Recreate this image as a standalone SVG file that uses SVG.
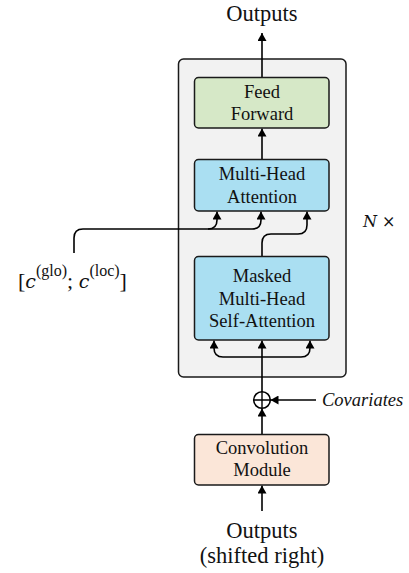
<svg xmlns="http://www.w3.org/2000/svg" width="409" height="573" viewBox="0 0 409 573">
<style>
.box{stroke:#1a1a1a;stroke-width:1.5}
.t{font-family:"Liberation Serif","Times New Roman",serif;fill:#111;text-anchor:middle}
.bt{font-size:18.5px}
.big{font-size:22.5px}
.ln{fill:none;stroke:#000;stroke-width:1.6}
</style>
<defs>
<marker id="ah" markerUnits="userSpaceOnUse" markerWidth="8" markerHeight="9" viewBox="0 0 8 9" refX="8" refY="4.5" orient="auto">
<path d="M0,0 L8,4.5 L0,9 Z" fill="#000"/>
</marker>
</defs>
<rect width="409" height="573" fill="#fff"/>
<g id="container">
<rect x="178.5" y="59" width="167.5" height="318" rx="5" fill="#f2f2f2" stroke="#1a1a1a" stroke-width="1.5"/>
</g>
<g id="connectors">
<path class="ln" d="M262,77 V33" marker-end="url(#ah)"/>
<path class="ln" d="M262,159 V128.5" marker-end="url(#ah)"/>
<path class="ln" d="M74,253 V238 Q74,229 83,229 H252 Q261,229 261,220 V211.5" marker-end="url(#ah)"/>
<path class="ln" d="M208,229 Q217,229 217,220 V211.5" marker-end="url(#ah)"/>
<path class="ln" d="M262,256 V243 Q262,234 271,234 H298 Q307,234 307,225 V211.5" marker-end="url(#ah)"/>
<path class="ln" d="M262,392 V340.5" marker-end="url(#ah)"/>
<path class="ln" d="M262,357 H223 Q214,357 214,348 V340.5" marker-end="url(#ah)"/>
<path class="ln" d="M262,357 H301 Q310,357 310,348 V340.5" marker-end="url(#ah)"/>
<path class="ln" d="M316,400 H270.5" marker-end="url(#ah)"/>
<path class="ln" d="M262,434 V408.5" marker-end="url(#ah)"/>
<path class="ln" d="M262,511 V485.5" marker-end="url(#ah)"/>
</g>
<g id="plus">
<circle cx="262" cy="400" r="8.3" fill="none" stroke="#000" stroke-width="1.6"/>
<path d="M253.7,400 H270.3 M262,391.7 V408.3" stroke="#000" stroke-width="1.4"/>
</g>
<g id="feedforward">
<rect class="box" x="194.5" y="77.5" width="134.5" height="50.5" rx="4" fill="#d6e8c7"/>
<text class="t bt" x="262" y="98">Feed</text>
<text class="t bt" x="262" y="120">Forward</text>
</g>
<g id="mha">
<rect class="box" x="194.5" y="159.5" width="134.5" height="51.5" rx="4" fill="#aadff2"/>
<text class="t bt" x="262" y="180">Multi-Head</text>
<text class="t bt" x="262" y="203">Attention</text>
</g>
<g id="masked">
<rect class="box" x="194.5" y="256.5" width="134.5" height="83.5" rx="4" fill="#aadff2"/>
<text class="t bt" x="262" y="282">Masked</text>
<text class="t bt" x="262" y="305">Multi-Head</text>
<text class="t bt" x="262" y="327">Self-Attention</text>
</g>
<g id="conv">
<rect class="box" x="194.5" y="434.5" width="134.5" height="50.5" rx="4" fill="#fbe6d8"/>
<text class="t bt" x="262" y="454">Convolution</text>
<text class="t bt" x="262" y="476">Module</text>
</g>
<g id="outputs-top"><text class="t big" x="262" y="21">Outputs</text></g>
<g id="outputs-bottom">
<text class="t big" x="262" y="538">Outputs</text>
<text class="t big" x="262" y="563">(shifted right)</text>
</g>
<g id="covariates"><text x="322" y="406" style="font-family:'Liberation Serif',serif;font-style:italic;font-size:18.5px;fill:#111">Covariates</text></g>
<g id="nx"><text x="363" y="227" style="font-family:'DejaVu Serif','Liberation Serif',serif;font-size:16px;fill:#111"><tspan font-style="italic">N</tspan> ×</text></g>
<g id="context"><text x="18" y="288" style="font-family:'Liberation Serif',serif;font-size:22px;fill:#111">[<tspan font-family="DejaVu Serif" font-style="italic" font-size="19px">c</tspan><tspan dy="-12" font-size="16px">(glo)</tspan><tspan dy="12">; </tspan><tspan font-family="DejaVu Serif" font-style="italic" font-size="19px">c</tspan><tspan dy="-12" font-size="16px">(loc)</tspan><tspan dy="12">]</tspan></text></g>
</svg>
